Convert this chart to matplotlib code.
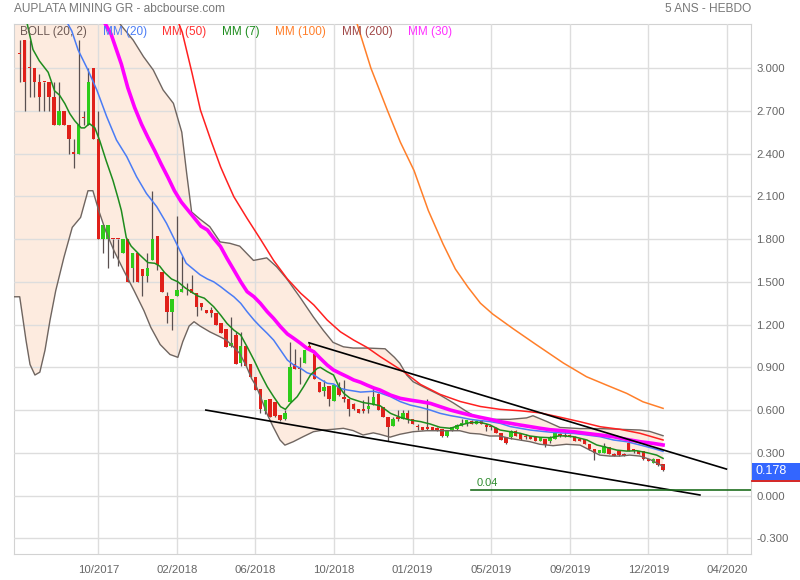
import matplotlib
matplotlib.use("Agg")
import matplotlib.pyplot as plt
from matplotlib.patches import Rectangle
from matplotlib.lines import Line2D
import numpy as np

plt.rcParams['font.family'] = ['Liberation Sans', 'DejaVu Sans']

# weekly candles (open, high, low, close)
opens = [3.10, 3.20, 3.00, 3.00, 2.90, 2.90, 2.90, 2.80, 2.60, 2.70,
         2.60, 2.40, 2.40, 2.65, 2.60, 3.00, 2.50, 1.80, 1.80, 1.80,
         1.80, 1.70, 1.80, 1.60, 1.70, 1.59, 1.54, 1.65, 1.82, 1.57,
         1.40, 1.29, 1.40, 1.43, 1.45, 1.45, 1.42, 1.35, 1.30, 1.30,
         1.28, 1.21, 1.17, 1.05, 1.13, 0.93, 1.05, 0.92, 0.83, 0.75,
         0.59, 0.68, 0.66, 0.565, 0.535, 0.66, 0.92, 0.90, 0.93, 1.05,
         0.99, 0.80, 0.735, 0.77, 0.665, 0.76, 0.69, 0.675, 0.64, 0.61,
         0.61, 0.605, 0.635, 0.71, 0.62, 0.55, 0.49, 0.54, 0.54, 0.58,
         0.54, 0.48, 0.48, 0.47, 0.48, 0.475, 0.465, 0.42, 0.46, 0.465,
         0.49, 0.50, 0.52, 0.505, 0.53, 0.495, 0.48, 0.475, 0.44, 0.41,
         0.41, 0.45, 0.43, 0.42, 0.42, 0.41, 0.385, 0.40, 0.38, 0.40,
         0.435, 0.42, 0.42, 0.41, 0.40, 0.395, 0.365, 0.33, 0.30, 0.30,
         0.34, 0.295, 0.31, 0.295, 0.37, 0.33, 0.31, 0.31, 0.26, 0.23,
         0.255, 0.22]
highs = [3.20, 3.20, 3.20, 3.00, 2.96, 2.90, 2.90, 2.90, 2.90, 2.70,
         2.60, 2.50, 3.20, 2.70, 3.00, 3.00, 2.70, 1.90, 1.90, 1.80,
         1.80, 1.80, 1.80, 1.70, 1.70, 1.59, 1.70, 2.14, 1.82, 1.57,
         1.43, 1.38, 1.96, 1.68, 1.49, 1.55, 1.42, 1.35, 1.30, 1.32,
         1.28, 1.21, 1.17, 1.25, 1.15, 1.15, 1.05, 0.92, 0.83, 0.75,
         0.67, 0.68, 0.66, 0.565, 0.60, 1.08, 1.03, 0.97, 1.02, 1.07,
         0.99, 0.80, 0.81, 0.77, 0.775, 0.80, 0.81, 0.675, 0.65, 0.61,
         0.67, 0.70, 0.76, 0.72, 0.62, 0.55, 0.55, 0.60, 0.60, 0.60,
         0.54, 0.50, 0.48, 0.68, 0.48, 0.48, 0.47, 0.46, 0.48, 0.50,
         0.54, 0.53, 0.53, 0.53, 0.53, 0.51, 0.49, 0.48, 0.44, 0.41,
         0.46, 0.46, 0.43, 0.43, 0.42, 0.41, 0.41, 0.40, 0.42, 0.45,
         0.44, 0.46, 0.43, 0.42, 0.40, 0.395, 0.365, 0.33, 0.32, 0.37,
         0.34, 0.30, 0.31, 0.30, 0.40, 0.33, 0.315, 0.31, 0.26, 0.265,
         0.255, 0.22]
lows = [2.90, 2.70, 2.80, 2.80, 2.70, 2.70, 2.70, 2.60, 2.60, 2.60,
        2.40, 2.30, 2.40, 2.60, 2.60, 2.50, 1.80, 1.70, 1.60, 1.67,
        1.61, 1.70, 1.50, 1.50, 1.50, 1.40, 1.50, 1.65, 1.58, 1.43,
        1.21, 1.16, 1.40, 1.43, 1.41, 1.42, 1.26, 1.30, 1.28, 1.25,
        1.20, 1.14, 1.04, 1.04, 0.92, 0.91, 0.91, 0.83, 0.74, 0.58,
        0.57, 0.55, 0.55, 0.52, 0.53, 0.66, 0.89, 0.78, 0.93, 1.02,
        0.82, 0.73, 0.70, 0.63, 0.665, 0.70, 0.66, 0.56, 0.60, 0.58,
        0.58, 0.58, 0.635, 0.60, 0.55, 0.38, 0.49, 0.52, 0.54, 0.51,
        0.50, 0.46, 0.46, 0.46, 0.46, 0.455, 0.41, 0.41, 0.45, 0.46,
        0.49, 0.49, 0.50, 0.50, 0.50, 0.45, 0.46, 0.44, 0.39, 0.36,
        0.40, 0.42, 0.39, 0.40, 0.40, 0.38, 0.38, 0.34, 0.37, 0.40,
        0.41, 0.41, 0.41, 0.38, 0.38, 0.36, 0.32, 0.25, 0.30, 0.30,
        0.29, 0.275, 0.28, 0.275, 0.31, 0.30, 0.29, 0.25, 0.24, 0.23,
        0.21, 0.17]
closes = [3.10, 2.90, 3.00, 2.90, 2.80, 2.90, 2.80, 2.60, 2.70, 2.60,
          2.50, 2.40, 2.60, 2.65, 2.90, 2.50, 1.80, 1.90, 1.90, 1.80,
          1.80, 1.80, 1.50, 1.70, 1.50, 1.54, 1.60, 1.80, 1.62, 1.43,
          1.29, 1.38, 1.44, 1.45, 1.45, 1.42, 1.32, 1.32, 1.28, 1.28,
          1.20, 1.14, 1.04, 1.07, 0.92, 1.05, 0.91, 0.83, 0.74, 0.61,
          0.67, 0.55, 0.56, 0.53, 0.58, 0.90, 0.89, 0.89, 1.02, 1.02,
          0.82, 0.73, 0.76, 0.68, 0.775, 0.705, 0.68, 0.605, 0.61, 0.58,
          0.59, 0.63, 0.69, 0.60, 0.55, 0.48, 0.54, 0.54, 0.58, 0.54,
          0.50, 0.48, 0.46, 0.47, 0.46, 0.46, 0.42, 0.46, 0.48, 0.495,
          0.51, 0.53, 0.50, 0.525, 0.50, 0.48, 0.48, 0.44, 0.39, 0.37,
          0.45, 0.42, 0.40, 0.41, 0.40, 0.385, 0.41, 0.355, 0.41, 0.44,
          0.415, 0.42, 0.42, 0.385, 0.385, 0.36, 0.33, 0.30, 0.32, 0.345,
          0.29, 0.28, 0.285, 0.28, 0.31, 0.31, 0.295, 0.255, 0.245, 0.255,
          0.215, 0.178]

# indicator lines, read as (week index, value)
mm7_x = [1.4, 2.7, 4.0, 5.8, 7.1, 8.1, 9.2, 10.2, 11.2, 12.5, 13.2, 14.2, 15.3, 16.3,
         17.6, 19.0, 20.0, 20.7, 21.7, 22.7, 24.4, 26.1, 27.5, 28.5, 29.5, 30.9, 32.2,
         33.6, 34.9, 36.3, 37.6, 39.5, 40.9, 42.2, 43.6, 45.0, 46.3, 47.7, 49.0, 50.4,
         51.7, 53.1, 54.1, 55.1, 56.5, 57.8, 59.2, 60.6, 61.2, 62.6, 63.9, 65.0, 66.0,
         67.3, 68.7, 70.0, 71.4, 73.4, 75.5, 77.5, 79.5, 81.6, 83.6, 85.6, 87.7, 89.7,
         91.7, 93.8, 95.8, 97.8, 99.9, 101.9, 103.9, 106.0, 108.0, 110.0, 112.8, 115.5,
         117.5, 119.5, 121.6, 123.6, 125.6, 127.7, 129.7, 131.0]
mm7_y = [3.33, 3.13, 3.05, 2.97, 2.84, 2.81, 2.75, 2.68, 2.63, 2.58, 2.58, 2.61, 2.58, 2.49,
         2.35, 2.21, 2.09, 2.00, 1.81, 1.75, 1.69, 1.635, 1.63, 1.61, 1.565, 1.52, 1.50,
         1.46, 1.43, 1.40, 1.385, 1.325, 1.267, 1.208, 1.161, 1.126, 1.044, 0.951, 0.857,
         0.764, 0.694, 0.624, 0.605, 0.647, 0.694, 0.764, 0.846, 0.893, 0.90, 0.87, 0.846,
         0.764, 0.717, 0.682, 0.666, 0.652, 0.645, 0.63, 0.577, 0.549, 0.53, 0.519, 0.502,
         0.479, 0.472, 0.495, 0.512, 0.514, 0.495, 0.46, 0.448, 0.437, 0.418, 0.409, 0.406,
         0.42, 0.413, 0.39, 0.355, 0.338, 0.319, 0.312, 0.315, 0.301, 0.284, 0.261]

mm20_x = [9.8, 10.6, 11.9, 13.9, 15.7, 17.7, 19.7, 21.8, 23.8, 25.8, 27.9, 29.9, 31.9,
          33.9, 36.7, 38.2, 39.5, 40.9, 42.2, 43.6, 45.0, 46.3, 47.7, 49.0, 50.4, 51.7,
          53.1, 54.5, 55.8, 57.2, 58.5, 59.9, 61.2, 62.6, 63.9, 65.3, 66.7, 68.0, 69.4,
          70.7, 72.1, 73.4, 75.5, 77.5, 79.5, 81.6, 83.6, 85.6, 87.7, 89.7, 91.7, 93.8,
          95.8, 97.8, 99.9, 101.9, 103.9, 106.0, 108.0, 110.0, 112.8, 115.5, 118.2, 120.9,
          123.6, 126.3, 129.0, 131.0]
mm20_y = [3.31, 3.26, 3.126, 2.986, 2.846, 2.66, 2.495, 2.378, 2.237, 2.12, 2.027, 1.91,
          1.77, 1.63, 1.55, 1.52, 1.50, 1.466, 1.431, 1.395, 1.349, 1.29, 1.232, 1.185,
          1.138, 1.091, 1.021, 0.951, 0.916, 0.893, 0.862, 0.846, 0.816, 0.788, 0.783,
          0.752, 0.741, 0.734, 0.726, 0.729, 0.732, 0.72, 0.694, 0.659, 0.635, 0.619,
          0.60, 0.577, 0.561, 0.549, 0.535, 0.526, 0.519, 0.507, 0.484, 0.472, 0.46,
          0.452, 0.445, 0.44, 0.436, 0.425, 0.413, 0.39, 0.378, 0.355, 0.331, 0.31]

mm30_x = [17.1, 18.6, 19.3, 20.7, 22.0, 23.4, 24.8, 26.1, 27.5, 28.8, 30.2, 31.5, 32.9,
          34.2, 35.5, 36.9, 38.2, 39.5, 40.9, 42.2, 43.6, 45.0, 46.3, 47.7, 49.0, 50.4,
          51.7, 53.1, 54.5, 55.8, 57.2, 58.5, 59.9, 61.2, 62.6, 63.9, 65.3, 66.7, 68.0,
          69.4, 70.7, 72.1, 73.4, 75.5, 77.5, 79.5, 81.6, 83.6, 85.6, 87.7, 89.7, 91.7,
          93.8, 95.8, 97.8, 99.9, 101.9, 103.9, 106.0, 108.0, 110.0, 112.8, 115.5, 118.2,
          120.9, 123.6, 126.3, 129.0, 131.0]
mm30_y = [3.33, 3.238, 3.168, 3.027, 2.863, 2.723, 2.606, 2.513, 2.419, 2.326, 2.232,
          2.139, 2.06, 2.005, 1.95, 1.89, 1.864, 1.805, 1.747, 1.665, 1.583, 1.50, 1.431,
          1.395, 1.349, 1.29, 1.243, 1.185, 1.134, 1.103, 1.068, 1.033, 1.009, 0.963,
          0.916, 0.881, 0.857, 0.834, 0.811, 0.795, 0.775, 0.755, 0.74, 0.705, 0.682,
          0.67, 0.659, 0.647, 0.624, 0.60, 0.582, 0.565, 0.549, 0.535, 0.519, 0.507,
          0.495, 0.484, 0.472, 0.462, 0.457, 0.448, 0.436, 0.425, 0.413, 0.394, 0.378,
          0.366, 0.355]

mm50_x = [32.2, 33.1, 35.1, 36.8, 38.9, 40.9, 42.0, 43.6, 46.3, 49.0, 51.7, 54.5, 57.2,
          59.9, 62.6, 65.3, 68.0, 70.7, 73.4, 78.2, 81.6, 85.6, 89.7, 93.8, 97.8, 101.9,
          106.0, 110.0, 114.1, 118.2, 122.2, 126.3, 131.0]
mm50_y = [3.33, 3.25, 2.963, 2.705, 2.495, 2.307, 2.22, 2.097, 1.945, 1.80, 1.65, 1.52,
          1.42, 1.337, 1.232, 1.149, 1.091, 1.04, 0.975, 0.869, 0.78, 0.71, 0.66, 0.625,
          0.605, 0.595, 0.58, 0.55, 0.518, 0.483, 0.465, 0.437, 0.39]

mm100_x = [68.7, 71.5, 74.9, 77.5, 80.3, 83.2, 86.2, 88.7, 91.3, 93.8, 96.3, 100.5,
           105.0, 110.7, 115.4, 119.5, 123.6, 126.9, 131.0]
mm100_y = [3.31, 3.00, 2.70, 2.48, 2.28, 2.00, 1.765, 1.59, 1.461, 1.35, 1.274, 1.17,
           1.063, 0.93, 0.834, 0.775, 0.717, 0.658, 0.612]

boll_up_x = [-1.1, 18.0, 20.4, 23.1, 25.2, 27.2, 29.2, 31.3, 33.0, 34.0, 35.0, 36.7,
             38.7, 40.8, 42.8, 44.8, 47.6, 50.3, 52.3, 54.4, 57.1, 59.8, 61.8, 63.8,
             65.9, 67.9, 70.9, 74.4, 76.3, 77.4, 78.8, 80.1, 82.8, 85.6, 88.3, 91.0,
             93.0, 96.4, 99.8, 103.2, 104.5, 107.3, 110.0, 114.1, 118.1, 122.2, 126.3,
             128.3, 131.0]
boll_up_y = [4.5, 3.6, 3.31, 3.196, 3.08, 2.986, 2.846, 2.752, 2.55, 2.26, 1.99, 1.94,
             1.887, 1.78, 1.77, 1.75, 1.65, 1.668, 1.606, 1.52, 1.39, 1.253, 1.16, 1.075,
             1.044, 1.035, 1.035, 1.03, 0.97, 0.928, 0.846, 0.799, 0.752, 0.705, 0.65,
             0.59, 0.55, 0.535, 0.535, 0.545, 0.56, 0.52, 0.478, 0.47, 0.47, 0.465, 0.46,
             0.45, 0.42]

boll_low_x = [-1.06, 0.0, 0.53, 1.28, 2.1, 3.1, 4.1, 5.15, 6.17, 7.33, 9.0, 10.7, 12.4,
              13.9, 14.9, 16.1, 17.5, 19.2, 21.2, 23.3, 25.3, 26.7, 28.6, 30.6, 32.2,
              33.2, 34.5, 35.5, 36.7, 38.7, 40.8, 42.1, 43.5, 44.8, 46.2, 47.2, 48.2,
              49.3, 50.3, 51.6, 53.0, 54.0, 55.7, 57.7, 59.8, 61.8, 63.8, 65.9, 67.9,
              69.9, 72.0, 73.3, 75.4, 77.4, 80.1, 82.8, 85.6, 89.6, 91.7, 93.7, 95.7,
              97.8, 99.8, 101.8, 103.9, 105.9, 108.6, 111.3, 114.1, 116.1, 118.1, 120.2,
              122.2, 124.2, 126.3, 128.3, 131.0]
boll_low_y = [1.395, 1.395, 1.27, 1.09, 0.92, 0.846, 0.866, 1.02, 1.23, 1.437, 1.671,
              1.882, 1.952, 2.139, 2.139, 1.999, 1.858, 1.718, 1.578, 1.437, 1.297, 1.18,
              1.06, 0.99, 0.97, 1.08, 1.19, 1.22, 1.19, 1.149, 1.114, 1.091, 1.044, 0.997,
              0.904, 0.822, 0.764, 0.67, 0.577, 0.483, 0.39, 0.354, 0.378, 0.413, 0.448,
              0.46, 0.465, 0.472, 0.456, 0.425, 0.44, 0.43, 0.41, 0.43, 0.448, 0.455,
              0.455, 0.455, 0.437, 0.432, 0.418, 0.418, 0.401, 0.39, 0.378, 0.36, 0.35,
              0.36, 0.354, 0.319, 0.284, 0.277, 0.277, 0.284, 0.277, 0.254, 0.205]

# channel lines drawn on the chart
trend_up = ([58.9, 143.9], [1.072, 0.186])
trend_low = ([37.9, 138.5], [0.60, 0.004])
level = 0.04
level_start = 91.9

tick_pos = [16, 32, 48, 64, 80, 96, 112, 128, 144]
tick_labels = ['10/2017', '02/2018', '06/2018', '10/2018', '01/2019',
               '05/2019', '09/2019', '12/2019', '04/2020']
y_ticks = [-0.3, 0.0, 0.3, 0.6, 0.9, 1.2, 1.5, 1.8, 2.1, 2.4, 2.7, 3.0]

last_price = closes[-1]

fig = plt.figure(figsize=(8, 5.8), dpi=100)
W, H = 800, 580
ax = fig.add_axes([14.5 / W, 1 - 554 / H, (751 - 14.5) / W, (554 - 24) / H])
ax.set_xlim(-1.06, 148.9)
ax.set_ylim(-0.41, 3.309)

# bollinger band area
poly_x = boll_up_x + boll_low_x[::-1]
poly_y = boll_up_y + boll_low_y[::-1]
ax.fill(poly_x, poly_y, color='#fdebdf', lw=0, zorder=1)
ax.plot(boll_up_x, boll_up_y, color='#6f6560', lw=1.0, zorder=4)
ax.plot(boll_low_x, boll_low_y, color='#6f6560', lw=1.0, zorder=4)

# candles
o = np.array(opens)
h = np.array(highs)
lo = np.array(lows)
c = np.array(closes)
x = np.arange(len(c))
ax.vlines(x, lo, h, color='#5a5050', lw=0.9, zorder=3)
body = np.maximum(np.abs(c - o), 0.008)
bottom = np.minimum(o, c)
up = c > o
ax.bar(x[up], body[up], bottom=bottom[up], width=0.7, color='#2ecc1a', lw=0, zorder=3.2)
ax.bar(x[~up], body[~up], bottom=bottom[~up], width=0.7, color='#e0201a', lw=0, zorder=3.2)

# moving averages
ax.plot(mm100_x, mm100_y, color='#ff7f2a', lw=1.1, zorder=4)
ax.plot(mm50_x, mm50_y, color='#ff2020', lw=1.1, zorder=4)
ax.plot(mm20_x, mm20_y, color='#4a7cf5', lw=1.1, zorder=4)
ax.plot(mm30_x, mm30_y, color='#ff00ff', lw=2.6, zorder=4)
ax.plot(mm7_x, mm7_y, color='#1e8c1e', lw=1.1, zorder=4.5)

# channel + level
ax.plot(trend_up[0], trend_up[1], color='black', lw=1.2, zorder=5)
ax.plot(trend_low[0], trend_low[1], color='black', lw=1.2, zorder=5)
ax.plot([level_start, 148.9], [level, level], color='#1f6e1f', lw=1.2, zorder=5)
ax.text(level_start + 1.2, level + 0.015, '0.04', color='#2e8b2e', fontsize=8, va='bottom', zorder=5)

# axes styling
ax.set_xticks(tick_pos)
ax.set_xticklabels(tick_labels)
ax.set_yticks(y_ticks)
ax.set_yticklabels(['%.3f' % v for v in y_ticks])
ax.yaxis.tick_right()
ax.tick_params(axis='y', length=0, pad=4, labelsize=8.2, labelcolor='#666666')
ax.tick_params(axis='x', length=0, pad=8, labelsize=8.2, labelcolor='#666666')
ax.grid(True, color='#dddddd', lw=1.0)
ax.set_axisbelow(False)
for gl in ax.get_xgridlines() + ax.get_ygridlines():
    gl.set_zorder(2)
for s in ax.spines.values():
    s.set_color('#d2d2d2')

# header texts
fig.text(14 / W, 1 - 9 / H, 'AUPLATA MINING GR - abcbourse.com', color='#777777', fontsize=8.6, va='center')
fig.text(751 / W, 1 - 9 / H, '5 ANS - HEBDO', color='#777777', fontsize=8.6, va='center', ha='right')

legend = [('BOLL (20, 2)', '#6e5a55', 19.5), ('MM (20)', '#4a7cf5', 102.7),
          ('MM (50)', '#ff3030', 162.3), ('MM (7)', '#1e8c1e', 221.7),
          ('MM (100)', '#ff7f2a', 275), ('MM (200)', '#a04848', 341.7),
          ('MM (30)', '#ff30ff', 408.3)]
for label, col, px in legend:
    fig.text(px / W, 1 - 32 / H, label, color=col, fontsize=8.5, va='center')

# last price box
fig.patches.append(Rectangle((752 / W, 1 - 480 / H), 48 / W, 17 / H, transform=fig.transFigure,
                             facecolor='#3366ff', edgecolor='none'))
fig.lines.append(Line2D([752 / W, 1.0], [1 - 481 / H, 1 - 481 / H], transform=fig.transFigure,
                        color='#cc0000', lw=1.2))
fig.text(756 / W, 1 - 471.5 / H, '%.3f' % last_price, color='white', fontsize=9, va='center')

fig.savefig('out.png', dpi=100)
